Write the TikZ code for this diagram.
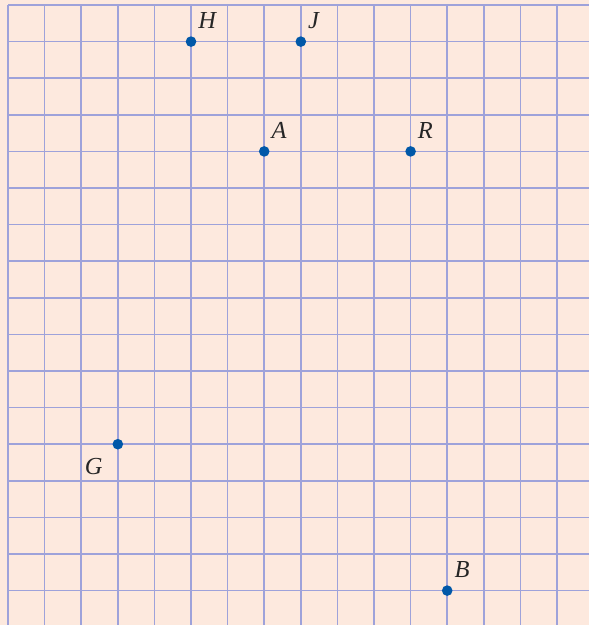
\documentclass[tikz,border=0pt]{standalone}
\usepackage{fontspec}
\setmainfont{Liberation Serif}
\usetikzlibrary{positioning}
\definecolor{paper}{RGB}{253,233,222}
\definecolor{gridline}{RGB}{158,162,218}
\definecolor{dotblue}{RGB}{0,88,168}
\tikzset{
  pt/.style={circle, fill=dotblue, inner sep=0pt, minimum size=0.29cm},
  lbl/.style={inner sep=1pt, font=\fontsize{19}{21}\selectfont\itshape, text=black!85}
}
\begin{document}
\begin{tikzpicture}
\useasboundingbox (-0.219,0.137) rectangle (15.874,-16.94);
\fill[paper] (-0.219,0.137) rectangle (15.874,-16.94);
\foreach \i in {0,...,15} \draw[gridline, line width=1.3pt] (\i,0) -- (\i,-16.94);
\foreach \j in {0,...,16} \draw[gridline, line width=1.3pt] (0,-\j) -- (15.874,-\j);

\node[pt] (h) at (5,-1) {}; \node[pt] (j) at (8,-1) {}; \node[pt] (a) at (7,-4) {}; \node[pt] (r) at (11,-4) {}; \node[pt] (g) at (3,-12) {}; \node[pt] (b) at (12,-16) {};

\node[lbl, above right=0.2cm and 0.05cm of h] {H}; \node[lbl, above right=0.2cm and 0.05cm of j] {J}; \node[lbl, above right=0.2cm and 0.05cm of a] {A}; \node[lbl, above right=0.2cm and 0.05cm of r] {R}; \node[lbl, below left=0.24cm and 0.27cm of g] {G}; \node[lbl, above right=0.2cm and 0.05cm of b] {B};
\end{tikzpicture}
\end{document}
